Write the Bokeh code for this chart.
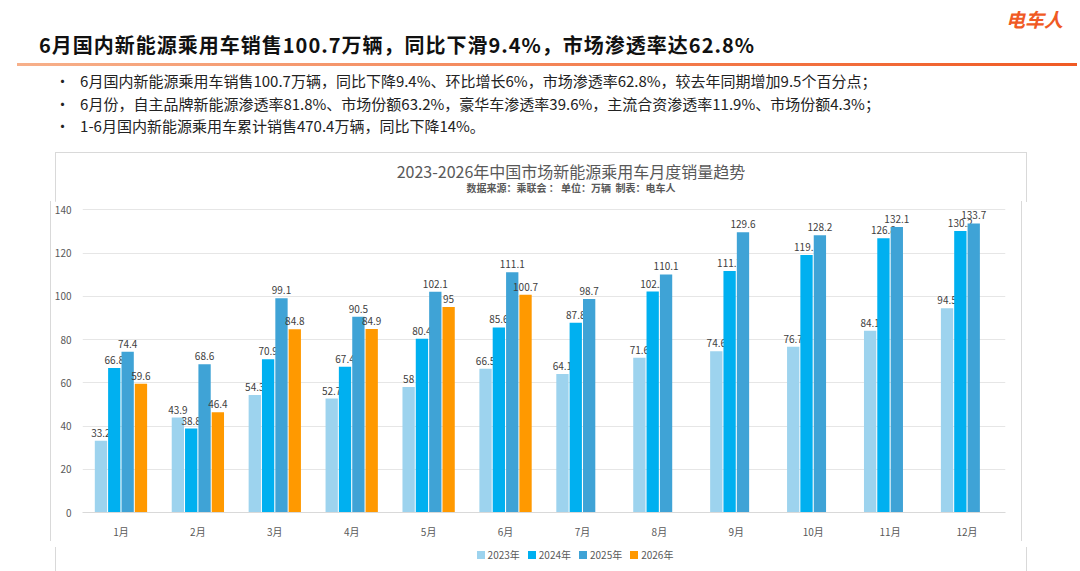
from bokeh.plotting import figure
from bokeh.models import Div, ColumnDataSource, FixedTicker
from bokeh.layouts import column, row, Spacer
from bokeh.transform import dodge
from bokeh.core.properties import value
from bokeh.embed import file_html
from bokeh.resources import INLINE

months = ["1月", "2月", "3月", "4月", "5月", "6月", "7月", "8月", "9月", "10月", "11月", "12月"]
y2023 = [33.2, 43.9, 54.3, 52.7, 58, 66.5, 64.1, 71.6, 74.6, 76.7, 84.1, 94.5]
y2024 = [66.8, 38.8, 70.9, 67.4, 80.4, 85.6, 87.8, 102.2, 111.7, 119.1, 126.8, 130.2]
y2025 = [74.4, 68.6, 99.1, 90.5, 102.1, 111.1, 98.7, 110.1, 129.6, 128.2, 132.1, 133.7]
y2026 = [59.6, 46.4, 84.8, 84.9, 95, 100.7]
years = ["2023年", "2024年", "2025年", "2026年"]
colors = ["#9DD3EE", "#00B0F0", "#3FA3D6", "#FF9900"]
offsets = [-0.26, -0.087, 0.087, 0.26]

FONT = "Noto Sans CJK SC"
SIDE = "border-left:1px solid #D9D9D9;border-right:1px solid #D9D9D9;box-sizing:border-box;"

header = Div(width=1064, height=137, text=f"""
<div style="font-family:'{FONT}';position:relative;width:1064px;height:137px;">
 <div style="position:absolute;right:6px;top:0px;color:#F05A24;font-weight:bold;font-style:italic;font-size:19px;">电车人</div>
 <div style="position:absolute;left:34px;top:26px;font-size:20px;font-weight:bold;color:#111;letter-spacing:1px;">6月国内新能源乘用车销售100.7万辆，同比下滑9.4%，市场渗透率达62.8%</div>
 <div style="position:absolute;left:12px;right:-8px;top:58px;height:3px;background:linear-gradient(90deg,#F7B08A,#F05A24);"></div>
 <div style="position:absolute;left:50px;top:65px;font-size:15px;color:#222;line-height:22.5px;">
  <div>•&nbsp;&nbsp;&nbsp;6月国内新能源乘用车销售100.7万辆，同比下降9.4%、环比增长6%，市场渗透率62.8%，较去年同期增加9.5个百分点；</div>
  <div>•&nbsp;&nbsp;&nbsp;6月份，自主品牌新能源渗透率81.8%、市场份额63.2%，豪华车渗透率39.6%，主流合资渗透率11.9%、市场份额4.3%；</div>
  <div>•&nbsp;&nbsp;&nbsp;1-6月国内新能源乘用车累计销售470.4万辆，同比下降14%。</div>
 </div>
</div>""")

titles = Div(width=972, height=44, text=f"""
<div style="font-family:'{FONT}';width:972px;height:50px;text-align:center;color:#595959;
 border-top:1px solid #D9D9D9;{SIDE}padding-top:8px;">
 <div style="font-size:16px;line-height:20px;padding-left:60px;">2023-2026年中国市场新能源乘用车月度销量趋势</div>
 <div style="font-size:10px;font-weight:bold;line-height:14px;padding-left:60px;">数据来源：乘联会 ： 单位：万辆&nbsp;&nbsp;制表：电车人</div>
</div>""")

sw = "".join(
    f'<span style="display:inline-block;width:8px;height:8px;background:{c};margin:0 3px 0 8px;vertical-align:middle;"></span>'
    f'<span style="vertical-align:middle;">{yr}</span>'
    for yr, c in zip(years, colors))
legend = Div(width=972, height=24, text=f"""
<div style="font-family:'{FONT}';width:972px;height:30px;text-align:center;color:#595959;
 font-size:10px;{SIDE}padding-left:60px;padding-top:0px;">{sw}</div>""")

p = figure(x_range=months, y_range=(0, 142), width=972, height=340,
           output_backend="svg", toolbar_location=None,
           min_border_left=30, min_border_right=18, min_border_top=4, min_border_bottom=18,
           border_fill_color="white", outline_line_color=None,
           styles={"border-left": "1px solid #D9D9D9", "border-right": "1px solid #D9D9D9"})

for yr, vals, c, off in zip(years, [y2023, y2024, y2025, y2026], colors, offsets):
    src = ColumnDataSource(dict(m=months[:len(vals)], v=vals, t=[f"{v:g}" for v in vals]))
    p.vbar(x=dodge("m", off, range=p.x_range), top="v", width=0.16, source=src,
           fill_color=c, line_color=None)
    p.text(x=dodge("m", off, range=p.x_range), y="v", text="t", source=src,
           text_align="center", text_baseline="bottom", y_offset=-4,
           text_font=value(FONT), text_font_size="10px", text_color="#404040")

p.yaxis.ticker = FixedTicker(ticks=list(range(0, 141, 20)))
p.xgrid.grid_line_color = None
p.ygrid.grid_line_color = "#E6E6E6"
p.axis.axis_line_color = None
p.xaxis.axis_line_color = "#D9D9D9"
p.axis.major_tick_line_color = None
p.axis.minor_tick_line_color = None
p.axis.major_label_text_font = FONT
p.axis.major_label_text_font_size = "10px"
p.axis.major_label_text_color = "#595959"

layout = column(header, row(Spacer(width=50), column(titles, p, legend, spacing=0)), spacing=0)
open("out.html", "w").write(file_html(layout, INLINE))
